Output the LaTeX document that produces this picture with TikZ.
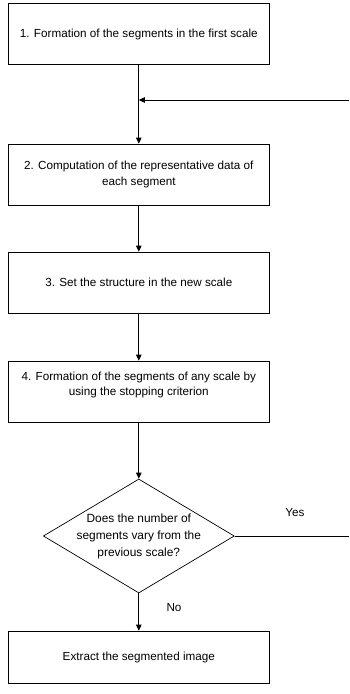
\documentclass[tikz,border=0pt]{standalone}
\usepackage{fontspec}
\setmainfont{Liberation Sans}
\usetikzlibrary{positioning,shapes.geometric,arrows.meta}

\tikzset{
  stepbox/.style={draw,line width=0.7pt,minimum width=261pt,minimum height=61pt,
                  inner sep=0pt,align=center},
  decbox/.style={draw,diamond,line width=0.7pt,aspect=1.675,inner sep=-8pt,
                 minimum width=191pt,minimum height=114pt,align=center,
                 font=\fontsize{11.9}{17}\selectfont},
  flow/.style={line width=0.7pt}
}

\begin{document}
\begin{tikzpicture}[x=1pt,y=1pt,on grid,
    >={Triangle[length=6pt,width=5.5pt]},
    every node/.style={font=\fontsize{11.7}{15.3}\selectfont}]
    \useasboundingbox (0,0) rectangle (349,-694);

    \node[stepbox] (s_1) at (138.8,-34) {1. Formation of the segments in the first scale};
    \node[stepbox] (s_2) [below=140.5pt of s_1] {2. Computation of the representative data of\\each segment};
    \node[stepbox] (s_3) [below=108pt of s_2] {3. Set the structure in the new scale};
    \node[stepbox,text depth=15pt] (s_4) [below=109pt of s_3] {4. Formation of the segments of any scale by\\using the stopping criterion};
    \node[decbox]  (dec) [below=144.5pt of s_4] {Does the number of\\segments vary from the\\previous scale?};
    \node[stepbox,minimum height=52pt] (s_5) [below=121pt of dec] {Extract the segmented image};

    \coordinate[below=66pt of s_1] (merge);
    \coordinate (back) at (349,-100);
    \coordinate (yes) at (349,-536);

    \node (l_yes) at (295,-513) {Yes};
    \node (l_no)  at (174,-608) {No};

    \draw[flow,->] (s_1) -- (s_2);
    \draw[flow,->] (back) -- (merge);
    \draw[flow,->] (s_2) -- (s_3);
    \draw[flow,->] (s_3) -- (s_4);
    \draw[flow,->] (s_4) -- (dec);
    \draw[flow,->] (dec) -- (s_5);
    \draw[flow] (dec.east) -- (yes);
\end{tikzpicture}
\end{document}
